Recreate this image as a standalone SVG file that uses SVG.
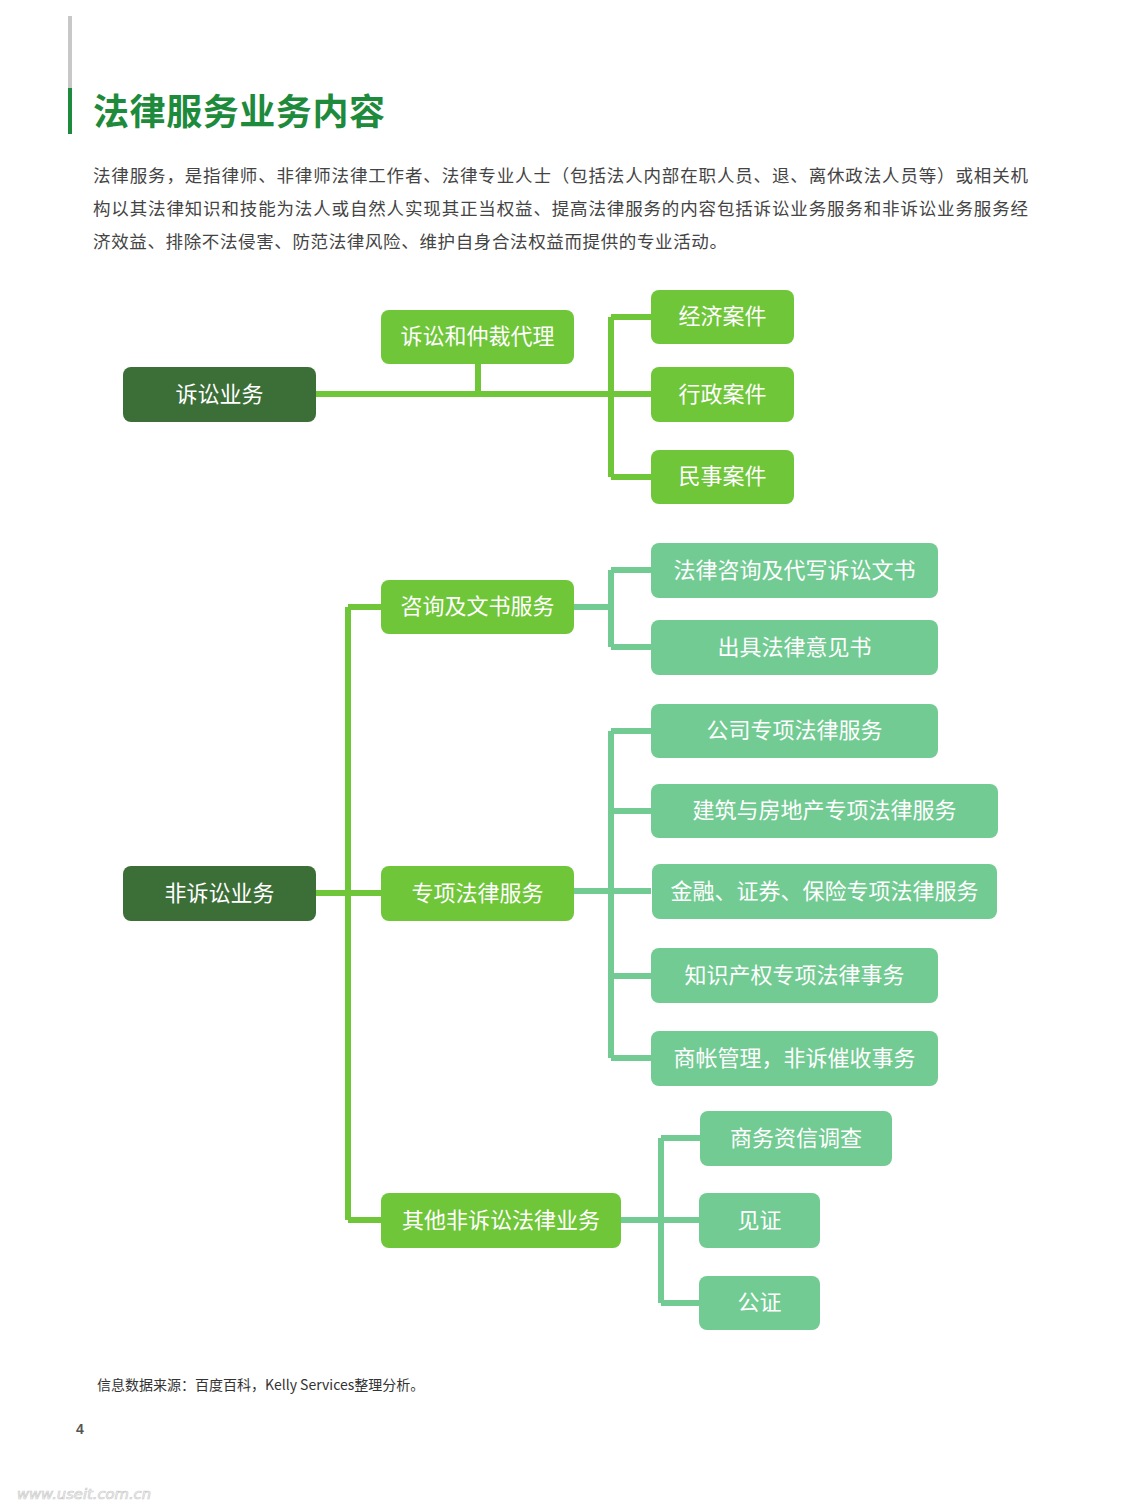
<svg xmlns="http://www.w3.org/2000/svg" width="1123" height="1512" viewBox="0 0 1123 1512">
<style>
.t{font-family:"Noto Sans CJK SC","Liberation Sans",sans-serif;}
.dk{fill:#3c6e38;}
.br{fill:#6fc638;}
.lt{fill:#72cb92;}
.nt{font-family:"Noto Sans CJK SC","Liberation Sans",sans-serif;font-size:22px;fill:#ffffff;text-anchor:middle;dominant-baseline:central;}
.cb{stroke:#6fc638;stroke-width:6;fill:none;}
.cl{stroke:#72cb92;stroke-width:6;fill:none;}
.p{font-family:"Noto Sans CJK SC","Liberation Sans",sans-serif;font-size:17.5px;fill:#444444;}
</style>
<rect width="1123" height="1512" fill="#ffffff"/>
<rect x="68" y="16" width="4" height="72" fill="#c8c8c8"/>
<rect x="68" y="88" width="4" height="46" fill="#1e8a3c"/>
<text x="93" y="125" class="t" font-size="36" font-weight="bold" fill="#1e8a3c" textLength="292" lengthAdjust="spacing">法律服务业务内容</text>
<text class="p" x="93" y="182" textLength="935" lengthAdjust="spacing">法律服务，是指律师、非律师法律工作者、法律专业人士（包括法人内部在职人员、退、离休政法人员等）或相关机</text>
<text class="p" x="93" y="215" textLength="935" lengthAdjust="spacing">构以其法律知识和技能为法人或自然人实现其正当权益、提高法律服务的内容包括诉讼业务服务和非诉讼业务服务经</text>
<text class="p" x="93" y="248" textLength="634" lengthAdjust="spacing">济效益、排除不法侵害、防范法律风险、维护自身合法权益而提供的专业活动。</text>

<g id="connectors">
<path class="cb" d="M316 394 H651 M478 364 V394 M611 317 V477 M611 317 H651 M611 477 H651"/>
<path class="cb" d="M316 893 H381 M348 607 V1220 M348 607 H381 M348 1220 H381"/>
<path class="cl" d="M574 607 H611 M611 570 V647 M611 570 H651 M611 647 H651"/>
<path class="cl" d="M574 891 H651 M611 731 V1058 M611 731 H651 M611 811 H651 M611 976 H651 M611 1058 H651"/>
<path class="cl" d="M621 1220 H699 M661 1138 V1303 M661 1138 H700 M661 1303 H699"/>
</g>

<g id="n1"><rect class="dk" x="123" y="367" width="193" height="55" rx="8"/><text class="nt" x="219.5" y="391.5">诉讼业务</text></g>
<g id="n2"><rect class="br" x="381" y="310" width="193" height="54" rx="8"/><text class="nt" x="477.5" y="334">诉讼和仲裁代理</text></g>
<g id="n3"><rect class="br" x="651" y="290" width="143" height="54" rx="8"/><text class="nt" x="722.5" y="314">经济案件</text></g>
<g id="n4"><rect class="br" x="651" y="367" width="143" height="55" rx="8"/><text class="nt" x="722.5" y="391.5">行政案件</text></g>
<g id="n5"><rect class="br" x="651" y="450" width="143" height="54" rx="8"/><text class="nt" x="722.5" y="474">民事案件</text></g>

<g id="n6"><rect class="dk" x="123" y="866" width="193" height="55" rx="8"/><text class="nt" x="219.5" y="890.5">非诉讼业务</text></g>
<g id="n7"><rect class="br" x="381" y="580" width="193" height="54" rx="8"/><text class="nt" x="477.5" y="604">咨询及文书服务</text></g>
<g id="n8"><rect class="br" x="381" y="866" width="193" height="55" rx="8"/><text class="nt" x="477.5" y="890.5">专项法律服务</text></g>
<g id="n9"><rect class="br" x="381" y="1193" width="240" height="55" rx="8"/><text class="nt" x="501" y="1217.5">其他非诉讼法律业务</text></g>

<g id="n10"><rect class="lt" x="651" y="543" width="287" height="55" rx="8"/><text class="nt" x="794.5" y="567.5">法律咨询及代写诉讼文书</text></g>
<g id="n11"><rect class="lt" x="651" y="620" width="287" height="55" rx="8"/><text class="nt" x="794.5" y="644.5">出具法律意见书</text></g>
<g id="n12"><rect class="lt" x="651" y="704" width="287" height="54" rx="8"/><text class="nt" x="794.5" y="728">公司专项法律服务</text></g>
<g id="n13"><rect class="lt" x="651" y="784" width="347" height="54" rx="8"/><text class="nt" x="824.5" y="808">建筑与房地产专项法律服务</text></g>
<g id="n14"><rect class="lt" x="652" y="864" width="345" height="55" rx="8"/><text class="nt" x="824.5" y="888.5">金融、证券、保险专项法律服务</text></g>
<g id="n15"><rect class="lt" x="651" y="948" width="287" height="55" rx="8"/><text class="nt" x="794.5" y="972.5">知识产权专项法律事务</text></g>
<g id="n16"><rect class="lt" x="651" y="1031" width="287" height="55" rx="8"/><text class="nt" x="794.5" y="1055.5">商帐管理，非诉催收事务</text></g>
<g id="n17"><rect class="lt" x="700" y="1111" width="192" height="55" rx="8"/><text class="nt" x="796" y="1135.5">商务资信调查</text></g>
<g id="n18"><rect class="lt" x="699" y="1193" width="121" height="55" rx="8"/><text class="nt" x="759.5" y="1217.5">见证</text></g>
<g id="n19"><rect class="lt" x="699" y="1276" width="121" height="54" rx="8"/><text class="nt" x="759.5" y="1300">公证</text></g>

<text class="t" x="97" y="1390" font-size="14" fill="#333333">信息数据来源：百度百科，Kelly Services整理分析。</text>
<text x="76" y="1434" font-family="Liberation Sans,sans-serif" font-size="14" font-weight="bold" fill="#555555">4</text>
<text x="17" y="1499" font-family="DejaVu Sans,sans-serif" font-size="14" font-style="italic" fill="none" stroke="#cccccc" stroke-width="0.7" textLength="134" lengthAdjust="spacingAndGlyphs">www.useit.com.cn</text>
</svg>
